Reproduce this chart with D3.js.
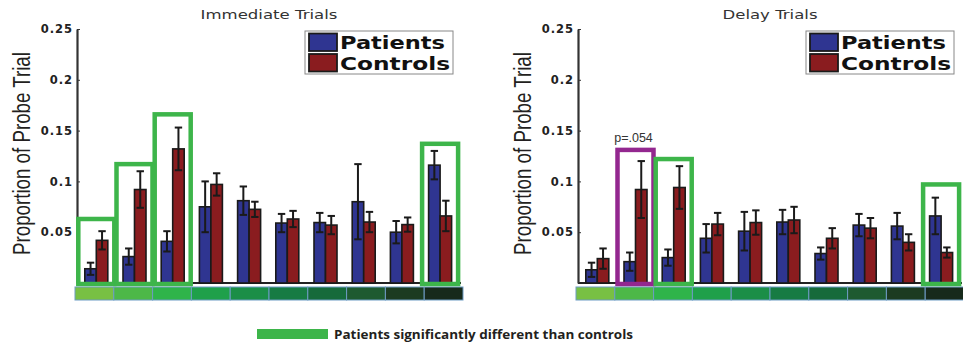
<!DOCTYPE html>
<html>
<head>
<meta charset="utf-8">
<script src="https://cdn.jsdelivr.net/npm/d3@7"></script>
<style>
    body { margin: 0; background: #fff; }
    .tick text { font-family: "DejaVu Sans", sans-serif; font-weight: bold; font-size: 11.5px; fill: #222; }
    .axis path, .axis line { stroke: #333; }
</style>
</head>
<body>
<div id="chart"></div>
<script>
// --- data ---
const categories = ['1', '2', '3', '4', '5', '6', '7', '8', '9', '10'];
const yTicks = [0.05, 0.1, 0.15, 0.2, 0.25];

const immediatePatients = [0.014, 0.026, 0.041, 0.075, 0.081, 0.059, 0.0595, 0.080, 0.050, 0.116];
const immediatePatientsErr = [0.006, 0.008, 0.010, 0.025, 0.014, 0.009, 0.0095, 0.037, 0.011, 0.014];
const immediateControls = [0.042, 0.092, 0.132, 0.097, 0.0725, 0.063, 0.057, 0.060, 0.0575, 0.066];
const immediateControlsErr = [0.009, 0.018, 0.021, 0.011, 0.0075, 0.008, 0.009, 0.010, 0.007, 0.015];

const delayPatients = [0.013, 0.021, 0.025, 0.044, 0.051, 0.060, 0.029, 0.057, 0.056, 0.066];
const delayPatientsErr = [0.007, 0.009, 0.008, 0.014, 0.019, 0.012, 0.006, 0.011, 0.013, 0.018];
const delayControls = [0.024, 0.092, 0.094, 0.058, 0.0595, 0.062, 0.044, 0.054, 0.040, 0.030];
const delayControlsErr = [0.010, 0.028, 0.021, 0.011, 0.012, 0.013, 0.010, 0.010, 0.008, 0.005];

// highlighted categories (box top in data units)
const immediateBoxes = [
    { cat: '1', top: 0.063, kind: 'sig' },
    { cat: '2', top: 0.117, kind: 'sig' },
    { cat: '3', top: 0.166, kind: 'sig' },
    { cat: '10', top: 0.137, kind: 'sig' }
];
const delayBoxes = [
    { cat: '2', top: 0.131, kind: 'trend', label: 'p=.054' },
    { cat: '3', top: 0.122, kind: 'sig' },
    { cat: '10', top: 0.097, kind: 'sig' }
];

const seriesNames = ['Patients', 'Controls'];
const legendNote = 'Patients significantly different than controls';

// --- styles ---
const barColors = ['#2f3591', '#8a1c1f'];
const boxColors = { sig: '#3db54a', trend: '#93278f' };
const stripColors = ['#78c043', '#4db848', '#2fb44a', '#1fa04a', '#1b8e47',
    '#177b43', '#166a3b', '#1e5a30', '#1c3b21', '#172a1b'];

const svg = d3.select('#chart').append('svg')
    .attr('width', 963)
    .attr('height', 350);

function drawPanel(x0, title, titleWidth, patients, patientsErr, controls, controlsErr, boxes) {
    const top = 29, base = 283, w = 388;
    const g = svg.append('g');

    const y = d3.scaleLinear().domain([0, 0.25]).range([base, top]);
    const xStrip = d3.scaleBand().domain(categories).range([x0, x0 + w]);
    const xBar = d3.scaleBand().domain(categories).range([x0 + 2.2, x0 + 2.2 + 382]);
    const xSeries = d3.scaleBand().domain(seriesNames).range([-11.5, 11.5]);

    const rows = categories.map((c, i) => ({
        cat: c,
        vals: [
            { s: seriesNames[0], v: patients[i], e: patientsErr[i] },
            { s: seriesNames[1], v: controls[i], e: controlsErr[i] }
        ]
    }));

    // title
    g.append('text')
        .attr('x', x0 + w / 2)
        .attr('y', 19)
        .attr('text-anchor', 'middle')
        .attr('textLength', titleWidth)
        .attr('lengthAdjust', 'spacingAndGlyphs')
        .style('font-family', 'DejaVu Sans, sans-serif')
        .style('font-size', '11.5px')
        .style('fill', '#333')
        .text(title);

    // y label, squeezed horizontally to look condensed
    const yLabel = g.append('text')
        .attr('text-anchor', 'middle')
        .style('font-family', 'Liberation Sans Narrow, Liberation Sans, sans-serif')
        .style('font-size', '24px')
        .style('fill', '#231f20')
        .text('Proportion of Probe Trial');
    const k = 203 / yLabel.node().getComputedTextLength();
    yLabel.attr('transform', `translate(${x0 - 45},${153.5}) rotate(-90) scale(${k},1)`);

    // baseline
    g.append('line')
        .attr('x1', x0 + 2).attr('x2', x0 + w - 2)
        .attr('y1', base).attr('y2', base)
        .attr('stroke', '#222').attr('stroke-width', 2);

    // y axis
    const yAxis = d3.axisLeft(y)
        .tickValues(yTicks)
        .tickFormat(d => d3.format('')(+d.toFixed(2)))
        .tickSizeInner(-3)
        .tickSizeOuter(0)
        .tickPadding(4);
    g.append('g')
        .attr('class', 'axis')
        .attr('transform', `translate(${x0 + 2},0)`)
        .call(yAxis)
        .call(a => a.select('.domain').attr('stroke-width', 2.2))
        .call(a => a.selectAll('.tick text').attr('letter-spacing', 1));

    // colour strip
    g.selectAll('.cell')
        .data(categories)
        .join('rect')
        .attr('class', 'cell')
        .attr('x', d => xStrip(d))
        .attr('y', 287)
        .attr('width', xStrip.bandwidth())
        .attr('height', 13)
        .attr('fill', (d, i) => stripColors[i])
        .attr('stroke', '#6d9bc3')
        .attr('stroke-width', 1);

    // bars
    const groups = g.selectAll('.grp')
        .data(rows)
        .join('g')
        .attr('class', 'grp')
        .attr('transform', d => `translate(${xBar(d.cat) + xBar.bandwidth() / 2},0)`);

    groups.selectAll('.bar')
        .data(d => d.vals)
        .join('rect')
        .attr('class', 'bar')
        .attr('x', d => xSeries(d.s))
        .attr('width', xSeries.bandwidth())
        .attr('y', d => y(d.v))
        .attr('height', d => base - y(d.v))
        .attr('fill', (d, i) => barColors[i])
        .attr('stroke', '#1a1a1a')
        .attr('stroke-width', 1.6);

    // error bars
    const err = groups.selectAll('.err')
        .data(d => d.vals)
        .join('g')
        .attr('class', 'err')
        .attr('stroke', '#1a1a1a')
        .attr('stroke-width', 2);
    const cx = d => xSeries(d.s) + xSeries.bandwidth() / 2;
    err.append('line')
        .attr('x1', cx).attr('x2', cx)
        .attr('y1', d => y(d.v + d.e)).attr('y2', d => y(d.v - d.e));
    [1, -1].forEach(sign => {
        err.append('line')
            .attr('x1', d => cx(d) - 3.7).attr('x2', d => cx(d) + 3.7)
            .attr('y1', d => y(d.v + sign * d.e)).attr('y2', d => y(d.v + sign * d.e));
    });

    // highlight boxes
    const bw = 36;
    g.selectAll('.hbox')
        .data(boxes)
        .join('rect')
        .attr('class', 'hbox')
        .attr('x', d => xBar(d.cat) + xBar.bandwidth() / 2 - bw / 2)
        .attr('y', d => y(d.top))
        .attr('width', bw)
        .attr('height', d => base + 1 - y(d.top))
        .attr('fill', 'none')
        .attr('stroke', d => boxColors[d.kind])
        .attr('stroke-width', 4.5);

    g.selectAll('.hlabel')
        .data(boxes.filter(d => d.label))
        .join('text')
        .attr('class', 'hlabel')
        .attr('x', d => xBar(d.cat) + xBar.bandwidth() / 2 - 2)
        .attr('y', d => y(d.top) - 8)
        .attr('text-anchor', 'middle')
        .style('font-family', 'Liberation Sans, sans-serif')
        .style('font-size', '12.5px')
        .style('fill', '#333')
        .text(d => d.label);

    // legend
    const lg = g.append('g').attr('transform', `translate(${x0 + w - 158},31)`);
    lg.append('rect')
        .attr('width', 148).attr('height', 43)
        .attr('fill', '#fff').attr('stroke', '#888').attr('stroke-width', 1);
    seriesNames.forEach((s, i) => {
        lg.append('rect')
            .attr('x', 4).attr('y', 2.5 + i * 20.5)
            .attr('width', 28).attr('height', 17.5)
            .attr('fill', barColors[i])
            .attr('stroke', '#1a1a1a').attr('stroke-width', 1.8);
        lg.append('text')
            .attr('x', 35).attr('y', 18 + i * 20.5)
            .attr('textLength', i === 0 ? 105 : 110)
            .attr('lengthAdjust', 'spacingAndGlyphs')
            .style('font-family', 'DejaVu Sans, sans-serif')
            .style('font-weight', 'bold')
            .style('font-size', '18.5px')
            .style('fill', '#111')
            .text(s);
    });
}

drawPanel(75, 'Immediate Trials', 137, immediatePatients, immediatePatientsErr,
    immediateControls, immediateControlsErr, immediateBoxes);
drawPanel(576, 'Delay Trials', 95, delayPatients, delayPatientsErr,
    delayControls, delayControlsErr, delayBoxes);

// bottom legend
svg.append('rect')
    .attr('x', 257).attr('y', 329)
    .attr('width', 71).attr('height', 10)
    .attr('fill', boxColors.sig);
svg.append('text')
    .attr('x', 334).attr('y', 339)
    .attr('textLength', 299)
    .attr('lengthAdjust', 'spacingAndGlyphs')
    .style('font-family', 'Open Sans, sans-serif')
    .style('font-weight', 'bold')
    .style('font-size', '13px')
    .style('fill', '#231f20')
    .text(legendNote);
</script>
</body>
</html>
